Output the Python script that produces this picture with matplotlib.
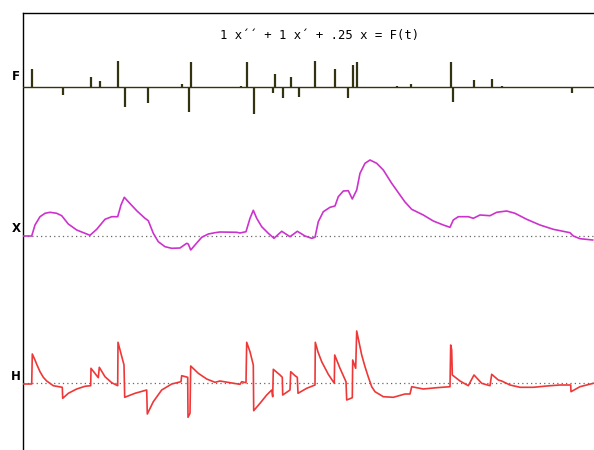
import matplotlib
matplotlib.use('Agg')
import matplotlib.pyplot as plt

# time axis runs 0..571 (one unit per pixel column of the plot area)
f_t = [9.3, 40.3, 68.3, 77, 95.3, 102, 124.7, 159, 165.7, 168, 218, 223.7, 231.3,
       249.7, 251.7, 259.7, 268.3, 275.7, 292.3, 312, 324.7, 330, 334, 373.7,
       388.3, 428.3, 430, 451.3, 469, 479, 548.7]
f_amp = [18, -8, 10, 6, 26, -20, -16, 3, -25, 25, 1, 25, -27,
         -6, 13, -11, 10, -10, 26, 18, -11, 22, 25, 1,
         3, 25, -15, 7, 8, 1, -6]

x_t = [1, 8.7, 12, 17, 22, 27, 33.7, 38.7, 45.3, 53.7, 62, 67, 73.7, 82, 88.7, 94.7,
       98, 101.3, 105.3, 113.7, 122, 125.3, 130.3, 135.3, 142, 148.7, 157, 163.7,
       165.3, 167.7, 172, 178.7, 185.3, 192, 197, 213.7, 217, 223, 227, 230.3,
       233.7, 238.7, 245.3, 251, 258.7, 267, 274.3, 282, 288.7, 292, 295.3, 300.3,
       307, 312, 315.3, 320.3, 325.3, 329.3, 333.7, 337, 342, 347, 353.7, 360.3,
       368.7, 377, 382, 388.7, 400.3, 410.3, 420.3, 427, 430.3, 435.3, 445.3,
       450.3, 457, 467, 473.7, 483.7, 492, 503.7, 517, 530.3, 547, 550.3, 557, 569.7]
x_val = [0, 0, 11, 19.3, 22.7, 23.7, 22.7, 20.3, 12, 6, 2.7, 0.7, 6.7, 16.7, 19.3, 19.3,
         31, 38.7, 34.3, 25.3, 17.7, 15.3, 2.7, -5.7, -10.7, -12.3, -12, -7.3,
         -8, -14, -9, -1.3, 2, 3.3, 4, 3.7, 3, 4.3, 17.7, 25.7,
         17.7, 9.3, 2.7, -2.3, 4.7, -0.7, 4.7, 0, -2.3, -1.3, 14.3, 24.3,
         28.7, 30, 39.3, 45, 45.3, 37, 46, 62.7, 72.7, 76, 72.7, 66,
         52.7, 41, 34, 26.7, 21, 15, 11, 8.7, 16, 19.3, 19.3,
         17.7, 21, 20.3, 23.7, 25, 22.7, 16.7, 11, 6.7, 3.3, 0, -2.7, -4]

h_t = [1, 8.7, 9.3, 12, 13.7, 17, 20.3, 23.7, 30.3, 39.3, 39.7, 45.3, 53.7, 62, 67.7,
       68, 75.3, 76.3, 82, 88.7, 94.7, 95, 101, 101.7, 112, 123.7, 124.3, 130.3,
       138.7, 148.7, 158, 158.7, 164.7, 165, 167, 167.7, 175.3, 183.7, 192, 197,
       207, 217, 218.7, 223, 223.7, 227, 230.3, 230.7, 237, 243.7, 248.7, 249.7,
       250.3, 257, 259.3, 259.7, 267, 267.7, 272, 274.3, 275, 283.7, 292,
       292.3, 295, 298.7, 305.3, 311.3, 311.7, 317, 323, 323.7, 329.3, 329.7,
       332.7, 333.7, 338.7, 342, 345.3, 348.7, 352, 360.3, 370.3, 382, 387, 388.7,
       400.3, 413.7, 427, 427.7, 428.7, 429.3, 437, 445.3, 451, 458.7, 467, 468.7,
       475.3, 478.7, 487, 497, 510.3, 523.7, 537, 547.7, 548, 557, 570.3]
h_val = [-1, -1, 29, 23, 18.7, 11.3, 5.7, 2, -2.7, -4.3, -15.3, -10.3, -6, -3.3, -2.7,
         14.7, 5.3, 15.7, 6.3, 0.3, -2.7, 40.7, 18, -14.3, -10.3, -7, -31, -18.7,
         -7, -1, 1.3, 7.3, 5.7, -34.3, -30.3, 17, 9.7, 4, 0.7, 2,
         0.3, -1.3, 1.3, 0.3, 40.7, 31.3, 18, -27.7, -20.3, -12, -7, -13.7,
         13.7, 8, 5.7, -12, -7, 11.3, 7.3, 5.7, -10.3, -5.3, -2,
         40.7, 31, 21.3, 8.7, -0.3, 28, 14.7, 1.3, -17, -14.7, 23,
         14.7, 52, 28, 16.3, 6, -3.7, -8.7, -13.7, -14.3, -11, -11, -3.7,
         -6, -4.7, -3.7, 38, 33, 8, 2, -2.7, 8, -0.3, -2.7, 8.7,
         3, 2, -2, -4.3, -4.3, -3, -2, -2, -8.7, -3.7, -0.3]

title = "1 x\u00b4\u00b4 + 1 x\u00b4 + .25 x = F(t)"

W, H = 594, 450
fig = plt.figure(figsize=(W / 100, H / 100), dpi=100)
fig.patch.set_facecolor('white')


def px_axes(x0, y0, x1, y1):
    return fig.add_axes([x0 / W, 1 - y1 / H, (x1 - x0) / W, (y1 - y0) / H])


frame = px_axes(23, 13, 594, 450)
frame.set_xlim(0, 571)
frame.set_xticks([])
frame.set_yticks([])
for side in ['right', 'bottom']:
    frame.spines[side].set_visible(False)
for side in ['left', 'top']:
    frame.spines[side].set_linewidth(1.0)
    frame.spines[side].set_color('black')

f_col = '#333311'
ax_f = px_axes(23, 13, 594, 160)
ax_f.set_xlim(0, 571)
ax_f.set_ylim(-73, 74)
ax_f.axis('off')
ax_f.axhline(0, color=f_col, lw=1.0)
ax_f.vlines(f_t, 0, f_amp, color=f_col, lw=1.6)

ax_x = px_axes(23, 130, 594, 330)
ax_x.set_xlim(0, 571)
ax_x.set_ylim(-94, 106)
ax_x.axis('off')
ax_x.axhline(0, color='#666666', lw=0.9, ls=(0, (1, 2.5)))
ax_x.plot(x_t, x_val, color='#cc33cc', lw=1.2)

ax_h = px_axes(23, 300, 594, 450)
ax_h.set_xlim(0, 571)
ax_h.set_ylim(-67, 83)
ax_h.axis('off')
ax_h.axhline(0, color='#666666', lw=0.9, ls=(0, (1, 2.5)))
ax_h.plot(h_t, h_val, color='#ee3838', lw=1.2)

fig.text(320 / W, 1 - 35 / H, title, family='DejaVu Sans Mono', size=8.8,
         ha='center', va='center')
for lab, y in [('F', 77), ('X', 228), ('H', 376)]:
    fig.text(16 / W, 1 - y / H, lab, weight='bold', size=8.5, ha='center', va='center')

fig.savefig('out.png', dpi=100)
